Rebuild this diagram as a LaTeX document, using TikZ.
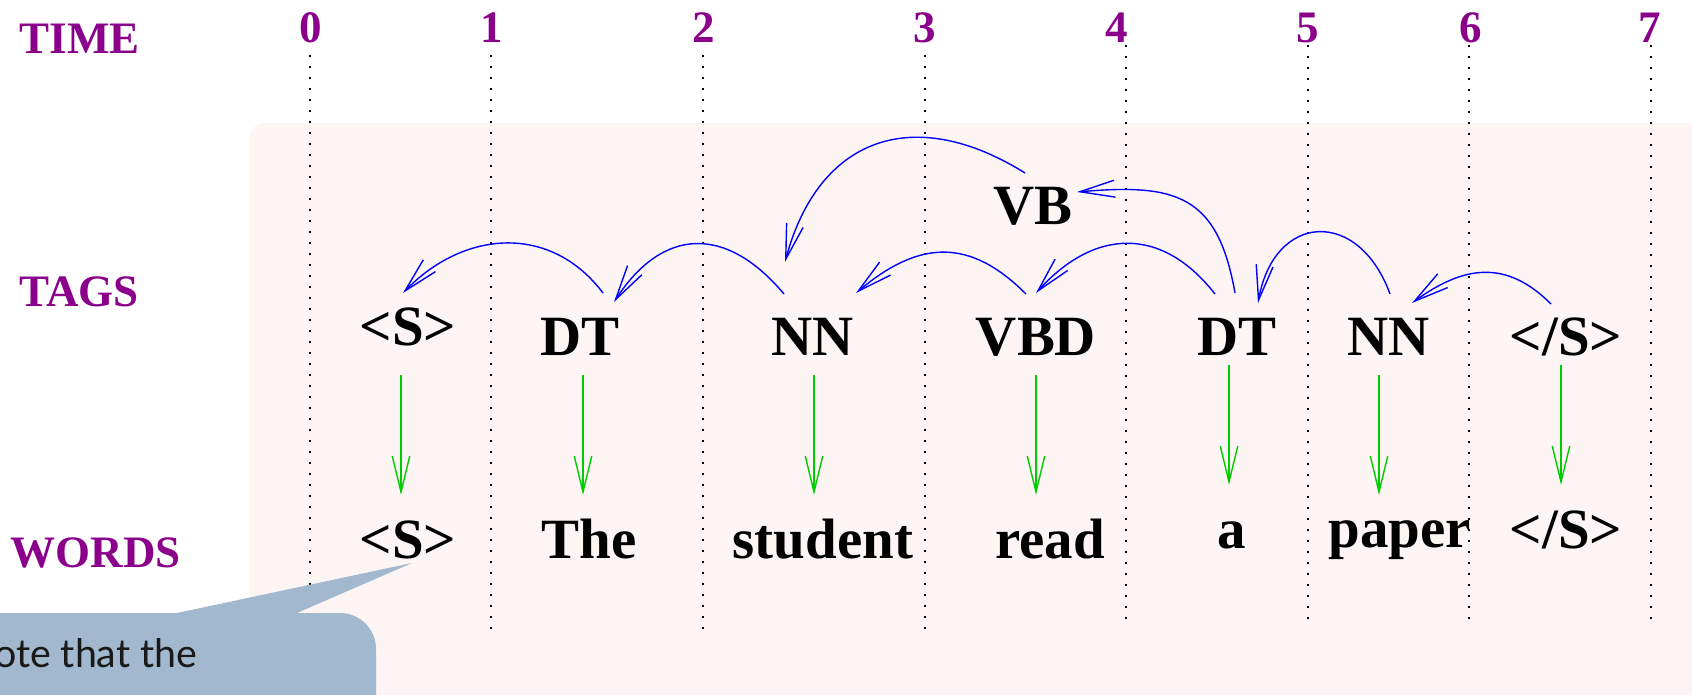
\documentclass[tikz,border=0pt]{standalone}
\usepackage{fontspec}
\setmainfont{Liberation Serif}
\newfontfamily\notefont{Lato}
\usetikzlibrary{arrows.meta,calc}
\definecolor{lblpurple}{RGB}{139,0,139}
\definecolor{depblue}{RGB}{0,0,255}
\definecolor{emitgreen}{RGB}{0,205,0}
\definecolor{panelpink}{HTML}{FDF5F4}
\definecolor{notegray}{HTML}{A2B8CE}
\tikzset{
  rowlbl/.style={text=lblpurple, font=\fontsize{12.8}{15}\selectfont\bfseries, inner sep=0pt, anchor=base west},
  stamp/.style={text=lblpurple, font=\fontsize{12.8}{15}\selectfont\bfseries, inner sep=0pt, anchor=base},
  guide/.style={line width=0.2mm, dash pattern=on 0.2mm off 0.9mm},
  tag/.style={font=\fontsize{16.2}{19}\selectfont\bfseries, inner sep=0pt, anchor=base},
  dep/.style={draw=depblue, line width=0.14mm, -{Straight Barb[length=3.5mm,width=1.7mm]}},
  emit/.style={draw=emitgreen, line width=0.14mm, -{Straight Barb[length=3.6mm,width=1.75mm]}},
  notetext/.style={font=\notefont\fontsize{11.2}{13}\selectfont, text=black!90, inner sep=0pt, anchor=base east}
}

\begin{document}
\begin{tikzpicture}[x=0.1mm,y=0.1mm]
  \useasboundingbox (0,0) rectangle (1692,-695);
  \clip (0,0) rectangle (1692,-695);
  % shaded panel
  \fill[panelpink, rounded corners=1.5mm] (250,-123) rectangle (1760,-760);
  % row labels
  \node[rowlbl] (lbltime) at (19,-53) {TIME};
  \node[rowlbl] (lbltags) at (19,-306) {TAGS};
  \node[rowlbl] (lblwords) at (10,-567) {WORDS};
  % time steps and their dotted guides
  \foreach \i/\nx/\lx/\top/\bot in {0/311/310/55/640, 1/492/491/55/637, 2/704/703/55/637, 3/925/925/55/637,
                                     4/1117/1126/45/626, 5/1308/1308/45/626, 6/1471/1469/45/626, 7/1650/1651/45/626} {
    \node[stamp] (n\i) at (\nx,-43) {\i};
    \draw[guide] (\lx,-\top) -- (\lx,-\bot);
  }
  % tags
  \foreach \i/\x/\y/\t in {0/408/345/{<S>}, 1/580/355/DT, 2/813/355/NN, 3/1036/355/VBD,
                           4/1237/355/DT, 5/1389/355/NN, 6/1566/355/{</S>}}
    \node[tag] (t\i) at (\x,-\y) {\t};
  \node[tag] (vb) at (1033,-224) {VB};
  % words
  \foreach \i/\x/\y/\t in {0/408/558/{<S>}, 1/589/558/The, 2/823/558/student, 3/1050/558/read,
                           4/1232/548/a, 5/1400/547/paper, 6/1566/548/{</S>}}
    \node[tag] (w\i) at (\x,-\y) {\t};
  % emissions
  \foreach \i/\dx/\dy in {0/-7/30, 1/3/20, 2/1/20, 3/0/20, 4/-8/10, 5/-10/20, 6/-5/10}
    \draw[emit] ($(t\i.base)+(\dx,-\dy)$) -- ++(0,-120);
  % dependency arcs
  \draw[dep] ($(t1.base)+(23,62)$) to[out=127,in=46,looseness=1.12] ($(t0.base)+(-5,52)$);
  \draw[dep] ($(t2.base)+(-29,61)$) to[out=130,in=57,looseness=1.35] ($(t1.base)+(34,53)$);
  \draw[dep] ($(vb.base)+(-8,51)$) to[out=148,in=75,looseness=1.3] ($(t2.base)+(-28,93)$);
  \draw[dep] ($(t3.base)+(-10,61)$) to[out=135,in=40,looseness=1.22] ($(t2.base)+(43,62)$);
  \draw[dep] ($(t4.base)+(-22,61)$) to[out=128,in=48,looseness=1.24] ($(t3.base)+(0,62)$);
  \draw[dep] ($(t4.base)+(-2,62)$) to[out=100,in=5,looseness=1.36] ($(vb.base)+(44,32)$);
  \draw[dep] ($(t5.base)+(1,61)$) to[out=110,in=80,looseness=1.78] ($(t4.base)+(21,52)$);
  \draw[dep] ($(t6.base)+(-15,51)$) to[out=135,in=36,looseness=1.17] ($(t5.base)+(23,52)$);
  % callout
  \fill[notegray, rounded corners=3.6mm] (-80,-613) rectangle (376,-780);
  \fill[notegray] (177,-613) -- ($(w0.base)+(4,-5)$) -- (297,-613) -- cycle;
  \node[notetext] (note) at (198,-667) {Note that the};
\end{tikzpicture}
\end{document}
